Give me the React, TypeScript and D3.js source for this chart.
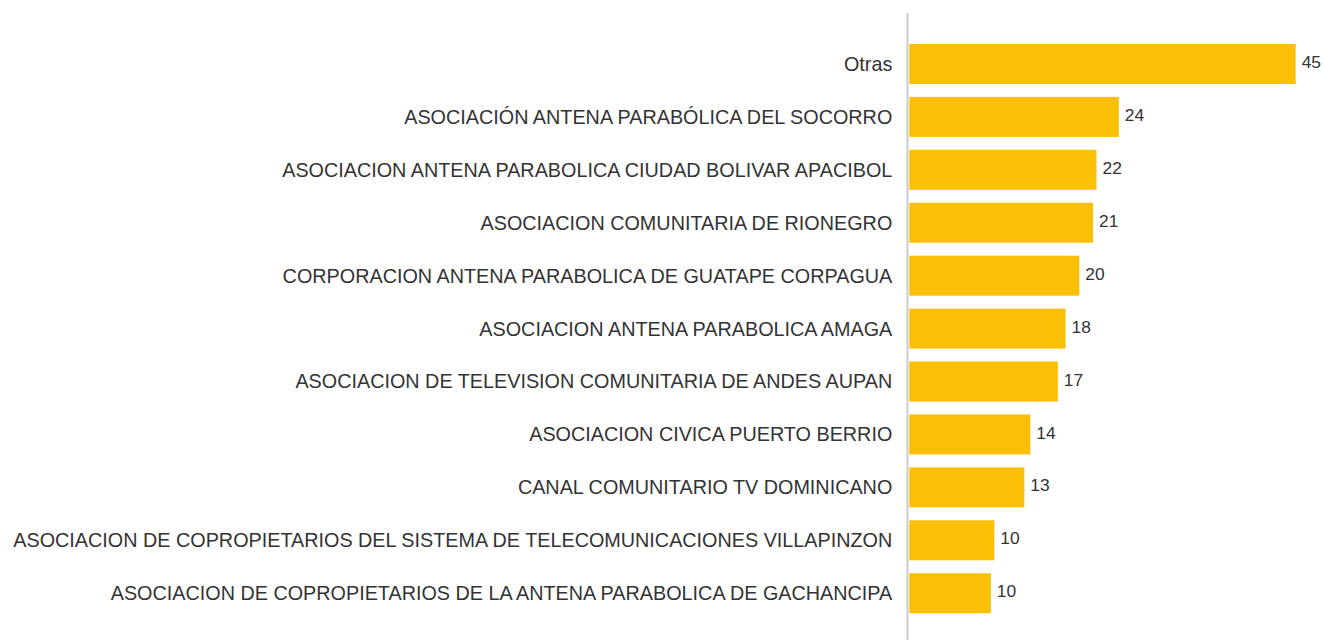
import React, { useEffect, useRef } from "react";
import * as d3 from "d3";

// categories top to bottom
const categories = [
  "Otras",
  "ASOCIACIÓN ANTENA PARABÓLICA DEL SOCORRO",
  "ASOCIACION ANTENA PARABOLICA CIUDAD BOLIVAR APACIBOL",
  "ASOCIACION COMUNITARIA DE RIONEGRO",
  "CORPORACION ANTENA PARABOLICA DE GUATAPE CORPAGUA",
  "ASOCIACION ANTENA PARABOLICA AMAGA",
  "ASOCIACION DE TELEVISION COMUNITARIA DE ANDES AUPAN",
  "ASOCIACION CIVICA PUERTO BERRIO",
  "CANAL COMUNITARIO TV DOMINICANO",
  "ASOCIACION DE COPROPIETARIOS DEL SISTEMA DE TELECOMUNICACIONES VILLAPINZON",
  "ASOCIACION DE COPROPIETARIOS DE LA ANTENA PARABOLICA DE GACHANCIPA",
];

const values = [45, 24.4, 21.8, 21.4, 19.8, 18.2, 17.3, 14.1, 13.4, 9.9, 9.5];

const App = () => {
  const chartRef = useRef<HTMLDivElement>(null);

  useEffect(() => {
    d3.select(chartRef.current).selectAll("*").remove();

    const width = 1325;
    const height = 640;
    const font = "'Liberation Sans', Arial, sans-serif";

    const svg = d3
      .select(chartRef.current)
      .append("svg")
      .attr("width", width)
      .attr("height", height)
      .style("display", "block");

    const x = d3.scaleLinear().domain([0, 45]).range([909.3, 1295.7]);

    const y = d3
      .scaleBand()
      .domain(categories)
      .range([37.5, 619.7])
      .paddingInner(0.244)
      .paddingOuter(0.122);

    const data = categories.map((c, i) => ({ label: c, value: values[i] }));

    // bars
    svg
      .selectAll("rect.bar")
      .data(data)
      .enter()
      .append("rect")
      .attr("class", "bar")
      .attr("x", x(0))
      .attr("y", (d) => y(d.label)!)
      .attr("width", (d) => x(d.value) - x(0))
      .attr("height", y.bandwidth())
      .attr("fill", "#fbc005");

    // axis line
    svg
      .append("line")
      .attr("x1", x(0) - 1.8)
      .attr("x2", x(0) - 1.8)
      .attr("y1", 13)
      .attr("y2", height)
      .attr("stroke", "#cccccc")
      .attr("stroke-width", 2);

    // category labels
    svg
      .selectAll("text.cat")
      .data(data)
      .enter()
      .append("text")
      .attr("class", "cat")
      .attr("x", x(0) - 17)
      .attr("y", (d) => y(d.label)! + y.bandwidth() / 2)
      .attr("dy", "0.35em")
      .attr("text-anchor", "end")
      .attr("fill", "#333333")
      .style("font-family", font)
      .style("font-size", "19.8px")
      .text((d) => d.label);

    // value labels
    svg
      .selectAll("text.val")
      .data(data)
      .enter()
      .append("text")
      .attr("class", "val")
      .attr("x", (d) => x(d.value) + 6)
      .attr("y", (d) => y(d.label)! + y.bandwidth() / 2 - 2)
      .attr("dy", "0.35em")
      .attr("fill", "#333333")
      .style("font-family", font)
      .style("font-size", "17.4px")
      .text((d) => d3.format(".0f")(d.value));
  }, []);

  return (
    <div
      ref={chartRef}
      style={{ position: "absolute", left: 0, top: 0 }}
    ></div>
  );
};

export default App;
